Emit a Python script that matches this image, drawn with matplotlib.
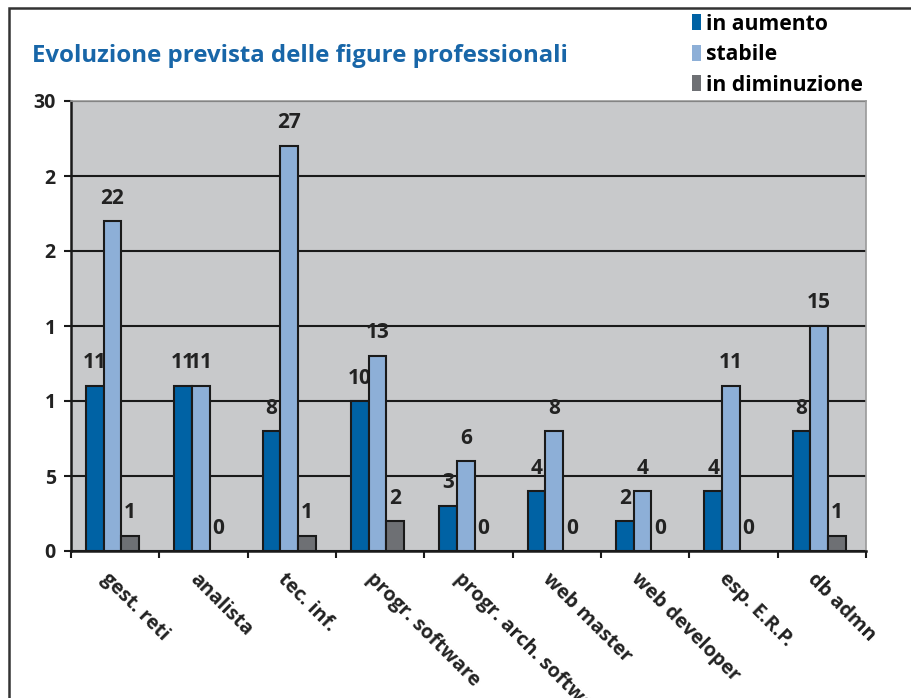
import matplotlib.pyplot as plt
import matplotlib.transforms as mtransforms
from matplotlib.patches import Patch, Rectangle
import numpy as np

plt.rcParams['font.family'] = ['Open Sans', 'DejaVu Sans']

categories = ["gest. reti", "analista", "tec. inf.", "progr. software",
              "progr. arch. software", "web master", "web developer",
              "esp. E.R.P.", "db admn"]
in_aumento = [11, 11, 8, 10, 3, 4, 2, 4, 8]
stabile = [22, 11, 27, 13, 6, 8, 4, 11, 15]
in_diminuzione = [1, 0, 1, 2, 0, 0, 0, 0, 1]
series_names = ["in aumento", "stabile", "in diminuzione"]
ytick_values = [0, 5, 10, 15, 20, 25, 30]
ytick_labels = ["0", "5", "1", "1", "2", "2", "30"]

colors = ["#0062A4", "#8DAFD7", "#6E7074"]

fig = plt.figure(figsize=(9.12, 6.98), dpi=100)
ax = fig.add_axes([71 / 912, 1 - 551 / 698, (866 - 71) / 912, (551 - 101) / 698])
ax.set_facecolor("#C8C9CB")

x = np.arange(len(categories))
w = 0.2
shift = -0.03
for k, vals in enumerate([in_aumento, stabile, in_diminuzione]):
    pos = x + shift + (k - 1) * w
    bars = ax.bar(pos, vals, w, color=colors[k], edgecolor="#1a1a1a",
                  linewidth=1.5, zorder=3)
    for b, v in zip(bars, vals):
        if v == 0:
            b.set_visible(False)
    ax.bar_label(bars, labels=[str(v) for v in vals], padding=9,
                 fontsize=15, fontweight="bold", color="#222222")

ax.set_xlim(-0.5, len(categories) - 0.5)
ax.set_ylim(0, 30)
ax.set_yticks(ytick_values)
ax.set_yticklabels(ytick_labels, fontsize=14, fontweight="bold", color="#222222")
ax.yaxis.grid(True, color="#1a1a1a", linewidth=1.5, zorder=1)
ax.set_axisbelow(True)

ax.set_xticks(np.arange(len(categories) + 1) - 0.5)
ax.set_xticklabels([])
ax.tick_params(axis="both", direction="out", length=5, width=1.5, color="#1a1a1a")
ax.tick_params(axis="y", pad=6)

for s in ["left", "bottom"]:
    ax.spines[s].set_color("#1a1a1a")
    ax.spines[s].set_linewidth(1.8)
for s in ["top", "right"]:
    ax.spines[s].set_color("#9a9a9a")
    ax.spines[s].set_linewidth(1.2)

trans = mtransforms.blended_transform_factory(ax.transData, ax.transAxes)
offset = mtransforms.ScaledTranslation(-11 / 100, -25 / 100, fig.dpi_scale_trans)
for i, lab in enumerate(categories):
    ax.text(i, 0, lab, transform=trans + offset, rotation=-45,
            ha="left", va="center", rotation_mode="anchor",
            fontsize=14.3, fontweight="bold", color="#222222")

fig.text(32 / 912, 1 - 56 / 698, "Evoluzione prevista delle figure professionali",
         fontsize=17.3, fontweight="bold", color="#1866A8", va="center")

handles = [Patch(facecolor=c, edgecolor="none") for c in colors]
fig.legend(handles, series_names, loc="upper left",
           bbox_to_anchor=(681 / 912, 1 - 3 / 698), frameon=False,
           handlelength=0.45, handleheight=0.8, handletextpad=0.25,
           labelspacing=0.45, borderpad=0,
           prop={"size": 15.2, "weight": "bold"})

# outer frame
fig.add_artist(Rectangle((9 / 912, -0.1), 1.2, 1 - 8 / 698 + 0.1,
                         transform=fig.transFigure, fill=False,
                         edgecolor="#333333", linewidth=1.8))

fig.savefig("out.png", dpi=100)
